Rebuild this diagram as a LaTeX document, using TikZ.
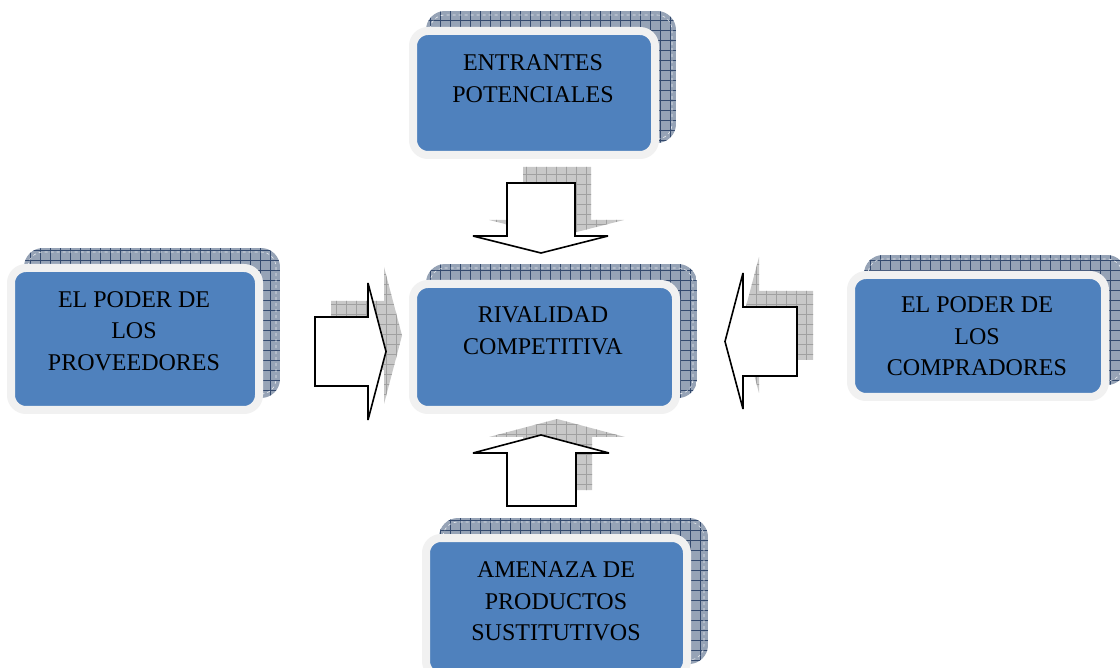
\documentclass[tikz,border=0pt]{standalone}
\usepackage{fontspec}
\setmainfont{Liberation Serif}
\definecolor{boxblue}{RGB}{79,129,189}
\definecolor{rimgray}{RGB}{241,241,241}
\definecolor{shadowfill}{RGB}{150,163,182}
\definecolor{shadowline}{RGB}{52,74,110}
\definecolor{arrowshade}{RGB}{200,200,200}
\definecolor{arrowgrid}{RGB}{160,160,160}
\tikzset{
  forcebox/.style={rectangle, rounded corners=15pt, fill=boxblue, draw=rimgray,
    line width=8pt, inner sep=0pt, outer sep=0pt},
  forcetext/.style={align=center, inner sep=0pt, text=black,
    font=\fontsize{24}{31.5}\selectfont},
  blockarrow/.style={fill=white, draw=black, line width=1.6pt, line join=miter, miter limit=4},
  boxgrid/.style={shadowline, line width=0.8pt},
  arrowgridline/.style={arrowgrid, line width=0.6pt},
}
% #1 name, #2 x1, #3 y1, #4 x2, #5 y2, #6 tx, #7 ty, #8 text
\newcommand\drawforce[8]{%
  \begin{scope}
    \clip[rounded corners=19pt] (#2+13,#3-20) rectangle (#4+21,#5-12);
    \fill[shadowfill] (#2+13,#3-20) rectangle (#4+21,#5-12);
    \draw[boxgrid, step=10pt] (#2+13,#3-20) grid (#4+21,#5-12);
  \end{scope}
  \draw[white, dashed, line width=0.6pt, opacity=0.8, rounded corners=15pt]
    (#2+17,#3-16) rectangle (#4+17,#5-16);
  \node[forcebox, minimum width={(#4-#2)*1pt}, minimum height={(#5-#3)*1pt}]
    (#1) at ({(#2+#4)/2},{(#3+#5)/2}) {};
  \node[forcetext] (#1text) at (#6,#7) {#8};
}
\newcommand\shadedarrow[1]{%
  \begin{scope}[shift={(16,-16)}]
    \clip #1;
    \fill[arrowshade] (0,0) rectangle (1120,668);
    \draw[arrowgridline, step=10pt] (0,0) grid (1120,668);
  \end{scope}
  \draw[blockarrow] #1;
}
\begin{document}
\begin{tikzpicture}[x=1pt, y=-1pt]
\useasboundingbox (0,0) rectangle (1120,668);
\fill[white] (0,0) rectangle (1120,668);

% arrows with their shadows
\shadedarrow{(507,183) -- (575,183) -- (575,236) -- (608,236) -- (541,253) -- (473,236) -- (507,236) -- cycle}
\shadedarrow{(507,506) -- (576,506) -- (576,453) -- (609,453) -- (541,435) -- (473,453) -- (507,453) -- cycle}
\shadedarrow{(315,317) -- (368,317) -- (368,283) -- (386,351.5) -- (368,420) -- (368,386) -- (315,386) -- cycle}
\shadedarrow{(797,307) -- (743,307) -- (743,273) -- (725,341.5) -- (743,409) -- (743,376) -- (797,376) -- cycle}

% boxes
\drawforce{entrantes}{413}{31}{655}{155}{533}{78.5}{ENTRANTES\\POTENCIALES}
\drawforce{rivalidad}{413}{284}{676}{410}{543}{331}{RIVALIDAD\\COMPETITIVA}
\drawforce{proveedores}{11}{268}{259}{410}{134}{331}{EL PODER DE\\LOS\\PROVEEDORES}
\drawforce{compradores}{851}{275}{1105}{397}{977}{336.5}{EL PODER DE\\LOS\\COMPRADORES}
\drawforce{sustitutos}{426}{538}{687}{676}{556}{601.5}{AMENAZA DE\\PRODUCTOS\\SUSTITUTIVOS}
\end{tikzpicture}
\end{document}
